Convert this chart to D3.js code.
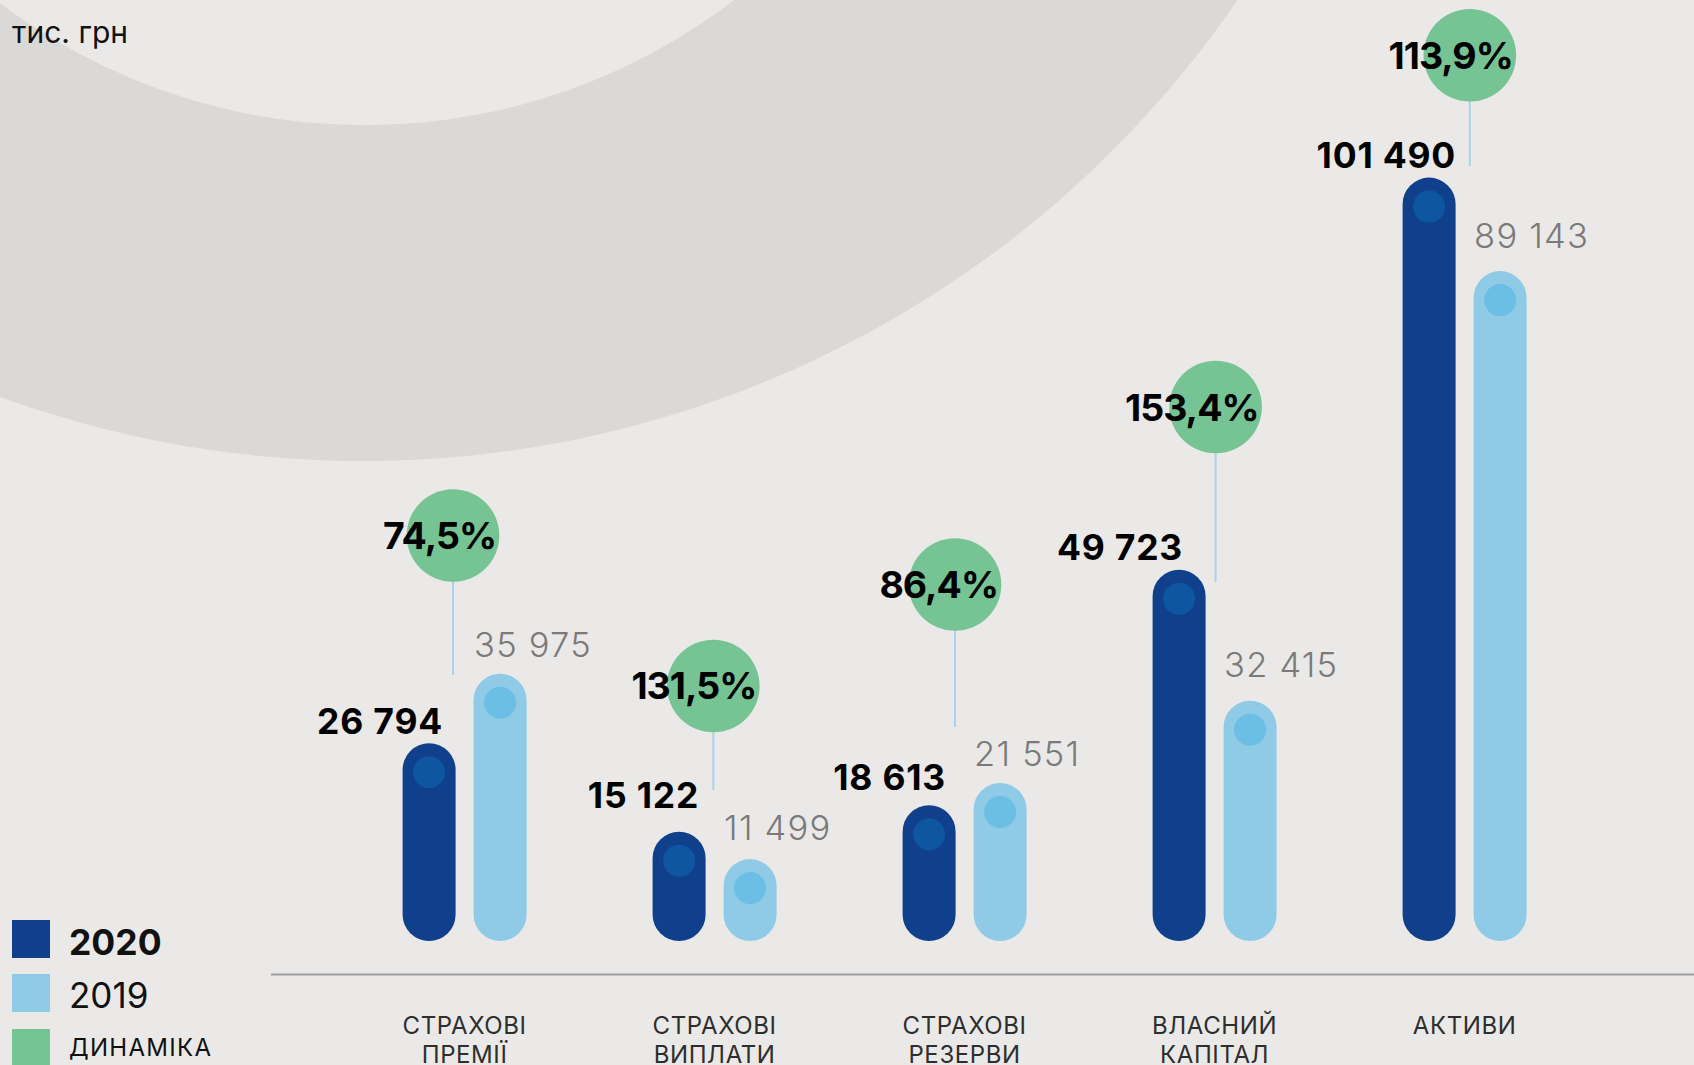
<!DOCTYPE html>
<html>
<head>
<meta charset="utf-8">
<script src="https://cdn.jsdelivr.net/npm/d3@7"></script>
<style>
  html, body { margin: 0; padding: 0; background: #eae9e7; }
  svg { display: block; font-family: Inter, "Open Sans", sans-serif; }
</style>
</head>
<body>
<svg id="chart" width="1694" height="1065"></svg>
<script>
// ---------- data ----------
const categories = ["СТРАХОВІ ПРЕМІЇ", "СТРАХОВІ ВИПЛАТИ", "СТРАХОВІ РЕЗЕРВИ", "ВЛАСНИЙ КАПІТАЛ", "АКТИВИ"];
const categoryLines = [["СТРАХОВІ", "ПРЕМІЇ"], ["СТРАХОВІ", "ВИПЛАТИ"], ["СТРАХОВІ", "РЕЗЕРВИ"], ["ВЛАСНИЙ", "КАПІТАЛ"], ["АКТИВИ"]];
const seriesNames = ["2020", "2019"];
const values2020 = [26794, 15122, 18613, 49723, 101490];
const values2019 = [35975, 11499, 21551, 32415, 89143];
const dynamics = [74.5, 131.5, 86.4, 153.4, 113.9];
const unitLabel = "тис. грн";
const legendLabels = ["2020", "2019", "ДИНАМІКА"];

// ---------- layout (hand placement of annotations, as in the original) ----------
// [bubble dx, bubble lift above taller bar, stem end gap above taller bar,
//  dark label dx, dark label gap, light label gap]
const annotationLayout = [
  [-11.6, 138.3, -1.2, 14, 9.7, 17],
  [-1.3, 145.7, 41.7, 20, 23.4, 19.6],
  [-9.6, 198.5, 56, 17, 15.4, 17],
  [1, 162.6, -12.4, 4, 9.6, 24],
  [5.2, 122.3, 11.6, 27, 9.3, 22.8]
];

const colors = {
  bg: "#eae9e7", ring: "#dad9d7",
  dark: "#103f8b", darkDot: "#0e56a0",
  light: "#8fcbe7", lightDot: "#6bbfe4",
  green: "#76c394", stem: "#a9d3e8",
  axis: "#9b9d9f", label: "#2e2e2e", grey: "#7a7a7a"
};

const svg = d3.select("#chart");
const W = 1694, H = 1065;

svg.append("rect").attr("width", W).attr("height", H).attr("fill", colors.bg);

// decorative ring
const ringPath = d3.path();
ringPath.moveTo(363 + 1060, -599);
ringPath.arc(363, -599, 1060, 0, 2 * Math.PI);
ringPath.moveTo(365 + 607, -482);
ringPath.arc(365, -482, 607, 0, 2 * Math.PI);
svg.append("path").attr("d", ringPath.toString()).attr("fill", colors.ring).attr("fill-rule", "evenodd");

// ---------- scales ----------
const zeroY = 946.2, barBottom = 941;
const y = d3.scaleLinear().domain([0, 100000]).range([zeroY, zeroY - 757.3]);
const x = d3.scaleBand().domain(categories).range([339.6, 1589.6]).padding(0);
const xs = d3.scaleBand().domain(seriesNames).range([63, 187]).paddingInner(18 / 71).paddingOuter(0);
const bw = xs.bandwidth();

const locale = d3.formatLocale({ decimal: ",", thousands: " ", grouping: [3], currency: ["", ""] });
const fmtNum = locale.format(",d");
const fmtPct = locale.format(".1f");

const rows = categories.map((c, i) => ({
  cat: c, i,
  v: { "2020": values2020[i], "2019": values2019[i] },
  dyn: dynamics[i], lay: annotationLayout[i]
}));

// axis line
svg.append("line").attr("x1", 271).attr("x2", W).attr("y1", 974.5).attr("y2", 974.5)
  .attr("stroke", colors.axis).attr("stroke-width", 2);

// category labels
rows.forEach(r => {
  const cx = x(r.cat) + x.bandwidth() / 2;
  const t = svg.append("text").attr("x", cx).attr("y", 1034).attr("text-anchor", "middle")
    .attr("font-size", 24).attr("letter-spacing", 0.6).attr("fill", colors.label);
  categoryLines[r.i].forEach((ln, k) => {
    t.append("tspan").attr("x", cx).attr("y", 1034 + k * 29).text(ln);
  });
});

// bubbles stems & circles
rows.forEach(r => {
  const cx = x(r.cat) + x.bandwidth() / 2 + r.lay[0];
  const topY = y(Math.max(r.v["2020"], r.v["2019"]));
  const cy = topY - r.lay[1];
  svg.append("line").attr("x1", cx).attr("x2", cx).attr("y1", cy).attr("y2", topY - r.lay[2])
    .attr("stroke", colors.stem).attr("stroke-width", 2);
  svg.append("circle").attr("cx", cx).attr("cy", cy).attr("r", 46.3).attr("fill", colors.green);
  svg.append("text").attr("x", cx + 43).attr("y", cy + 13.5).attr("text-anchor", "end")
    .attr("font-size", 37.5).attr("font-weight", 700).attr("letter-spacing", -1).attr("fill", "#000")
    .text(fmtPct(r.dyn) + "%");
});

// bars
rows.forEach(r => {
  const g = svg.append("g").attr("transform", `translate(${x(r.cat)},0)`);
  seriesNames.forEach(s => {
    const bx = xs(s);
    const top = y(r.v[s]);
    g.append("rect").attr("x", bx).attr("y", top).attr("width", bw).attr("height", barBottom - top)
      .attr("rx", bw / 2).attr("ry", bw / 2)
      .attr("fill", s === "2020" ? colors.dark : colors.light);
    g.append("circle").attr("cx", bx + bw / 2).attr("cy", top + 29).attr("r", 16)
      .attr("fill", s === "2020" ? colors.darkDot : colors.lightDot);
    if (s === "2020") {
      g.append("text").attr("x", bx + bw / 2 + r.lay[3]).attr("y", top - r.lay[4])
        .attr("text-anchor", "end").attr("font-size", 35.5).attr("font-weight", 700)
        .attr("letter-spacing", 0.8).attr("fill", "#000").text(fmtNum(r.v[s]));
    } else {
      g.append("text").attr("x", bx + 0.5).attr("y", top - r.lay[5])
        .attr("text-anchor", "start").attr("font-size", 34.5).attr("font-weight", 300)
        .attr("letter-spacing", 1.2).attr("fill", colors.grey).text(fmtNum(r.v[s]));
    }
  });
});

// unit label
svg.append("text").attr("x", 12).attr("y", 42.5).attr("font-size", 30).attr("fill", "#111").text(unitLabel);

// legend
const legendColors = [colors.dark, colors.light, colors.green];
const legendY = [920, 974, 1029];
legendLabels.forEach((lab, i) => {
  svg.append("rect").attr("x", 12).attr("y", legendY[i]).attr("width", 38).attr("height", 38)
    .attr("fill", legendColors[i]);
  const t = svg.append("text").attr("x", 69).attr("fill", "#111").text(lab);
  if (i === 0) t.attr("y", 955).attr("font-size", 35.5).attr("font-weight", 700);
  else if (i === 1) t.attr("y", 1008.3).attr("font-size", 35).attr("font-weight", 400);
  else t.attr("y", 1056).attr("font-size", 24).attr("letter-spacing", 1.3);
});
</script>
</body>
</html>
